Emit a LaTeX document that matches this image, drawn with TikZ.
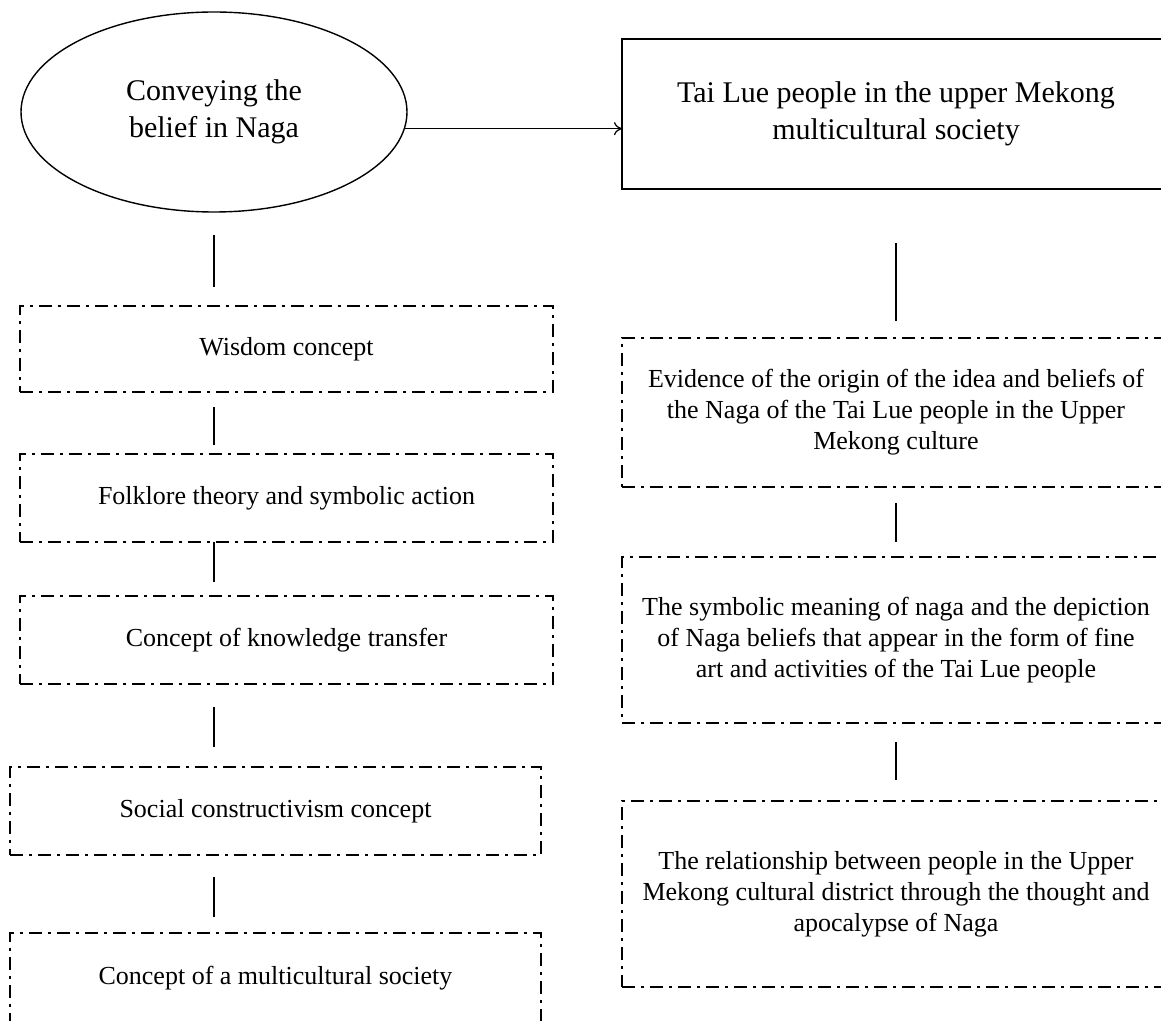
\documentclass[tikz,border=0pt]{standalone}
\usepackage{fontspec}
\setmainfont{Liberation Serif}
\usetikzlibrary{shapes.geometric,arrows.meta}
\tikzset{
    belief ell/.style={draw, ellipse, line width=0.7pt, inner sep=0pt, outer sep=0pt,
        minimum width=193pt, minimum height=100pt, align=center,
        font=\fontsize{15}{18.5}\selectfont},
    main box/.style={draw, rectangle, line width=0.7pt, inner sep=0pt, outer sep=0pt,
        minimum width=274pt, minimum height=75pt, align=center,
        font=\fontsize{15}{18.5}\selectfont},
    concept box/.style={draw, rectangle, line width=0.6pt, inner sep=0pt, outer sep=0pt,
        dash pattern=on 6.5pt off 3pt on 1.5pt off 3pt, align=center,
        font=\fontsize{13}{15.5}\selectfont},
    link/.style={line width=0.6pt}
}
\begin{document}
\begin{tikzpicture}[x=0.5pt,y=-0.5pt]
      \useasboundingbox (0,0) rectangle (1161,1021);
      % top row
      \node[belief ell] (belief) at (214,112) {Conveying the\\belief in Naga};
      \node[main box] (tailue) at (896,114) {Tai Lue people in the upper Mekong\\multicultural society};
      \draw[link,-{To[length=4pt,width=6.5pt]}] (belief.-5) -- (belief.-5 -| tailue.west);
      % left column
      \node[concept box, minimum width=266.5pt, minimum height=43pt] (wisdom) at (286.5,349) {Wisdom concept};
      \node[concept box, minimum width=266.5pt, minimum height=44pt] (folk) at (286.5,498) {Folklore theory and symbolic action};
      \node[concept box, minimum width=266.5pt, minimum height=44pt] (transfer) at (286.5,640) {Concept of knowledge transfer};
      \node[concept box, minimum width=265.5pt, minimum height=44pt] (social) at (275.5,811) {Social constructivism concept};
      \node[concept box, minimum width=265.5pt, minimum height=45pt] (multi) at (275.5,978) {Concept of a multicultural society};
      \draw[link, shorten <=11.5pt, shorten >=9.5pt] (belief.south) -- (belief.south |- wisdom.north);
      \draw[link, shorten <=7.5pt, shorten >=4.5pt] (wisdom.south -| belief.south) -- (folk.north -| belief.south);
      \draw[link, shorten >=7pt] (folk.south -| belief.south) -- (transfer.north -| belief.south);
      \draw[link, shorten <=11.5pt, shorten >=10pt] (transfer.south -| belief.south) -- (social.north -| belief.south);
      \draw[link, shorten <=11pt, shorten >=8pt] (social.south -| belief.south) -- (multi.north -| belief.south);
      % right column
      \node[concept box, minimum width=274pt, minimum height=74.5pt] (origin) at (896,412.5) {Evidence of the origin of the idea and beliefs of\\the Naga of the Tai Lue people in the Upper\\Mekong culture};
      \node[concept box, minimum width=274pt, minimum height=83pt] (symbol) at (896,640) {The symbolic meaning of naga and the depiction\\of Naga beliefs that appear in the form of fine\\art and activities of the Tai Lue people};
      \node[concept box, minimum width=274pt, minimum height=93pt] (relation) at (896,894) {The relationship between people in the Upper\\Mekong cultural district through the thought and\\apocalypse of Naga};
      \draw[link, shorten <=27pt, shorten >=8.5pt] (tailue.south) -- (origin.north);
      \draw[link, shorten <=8pt, shorten >=7.5pt] (origin.south) -- (symbol.north);
      \draw[link, shorten <=9.5pt, shorten >=10.5pt] (symbol.south) -- (relation.north);
\end{tikzpicture}
\end{document}
